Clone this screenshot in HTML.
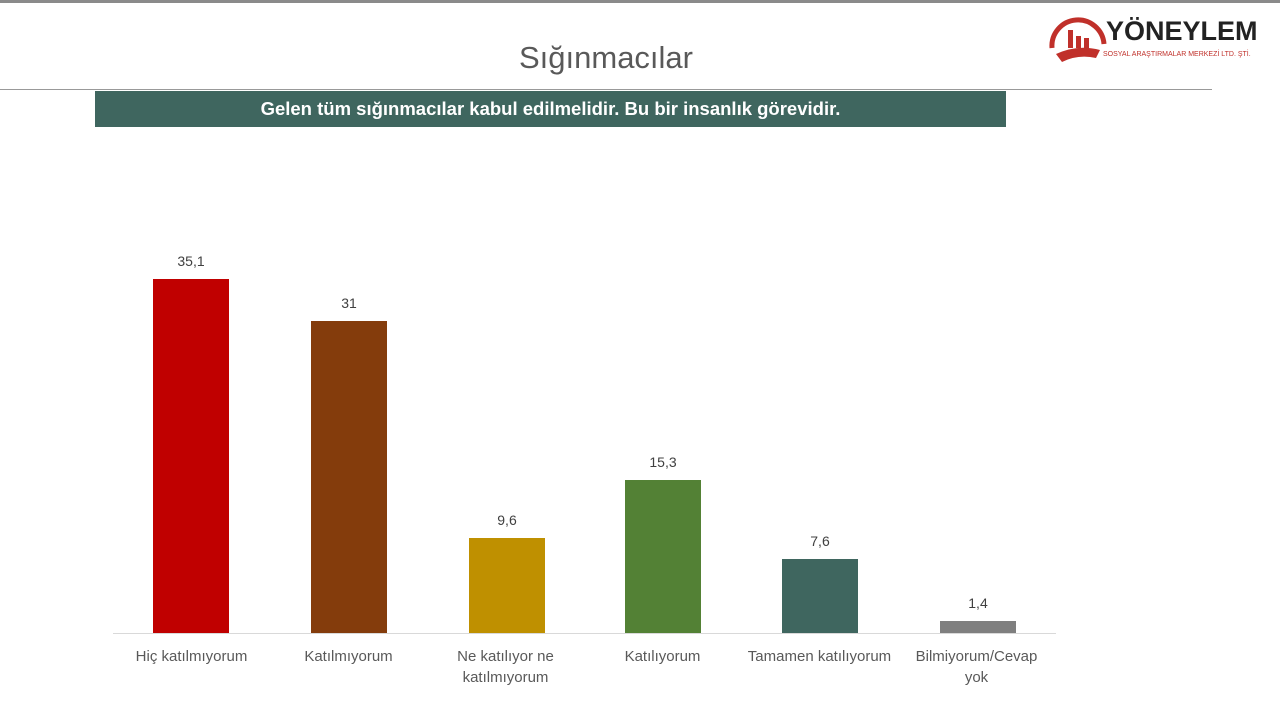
<!DOCTYPE html>
<html><head><meta charset="utf-8"><style>
body{margin:0;width:1280px;height:702px;background:#fff;position:relative;overflow:hidden;font-family:"Liberation Sans","DejaVu Sans",sans-serif}
.a{position:absolute}
.bar{position:absolute;width:76px;bottom:69px}
.v{position:absolute;width:76px;text-align:center;font-size:14px;color:#404040}
.l{position:absolute;width:157px;text-align:center;font-size:15px;color:#595959;line-height:21px;top:646px}
</style></head><body>
<div class="a" style="left:0;top:0;width:1280px;height:3px;background:#8a8a8a"></div>
<div class="a" style="left:0;top:40px;width:1212px;text-align:center;font-size:31px;color:#595959">Sığınmacılar</div>
<div class="a" style="left:0;top:89px;width:1212px;height:1px;background:#999"></div>
<div class="a" style="left:95px;top:91px;width:911px;height:36px;background:#3f665f;color:#fff;font-weight:bold;font-size:18.5px;line-height:36px;text-align:center">Gelen tüm sığınmacılar kabul edilmelidir. Bu bir insanlık görevidir.</div>
<svg class="a" style="left:1048px;top:14px" width="60" height="52"><path d="M4 34 A26 26 0 0 1 56 30" stroke="#c0302a" stroke-width="5" fill="none"/><rect x="20" y="16" width="5" height="18" fill="#c0302a"/><rect x="28" y="22" width="5" height="12" fill="#c0302a"/><rect x="36" y="24" width="5" height="10" fill="#c0302a"/><path d="M8 40 Q30 30 52 36 L48 44 Q30 40 14 48 Z" fill="#c0302a"/></svg>
<div class="a" style="left:1106px;top:16px;font-size:27px;font-weight:bold;color:#222">YÖNEYLEM</div>
<div class="a" style="left:1103px;top:51px;font-size:7px;color:#c0302a">SOSYAL ARAŞTIRMALAR MERKEZİ LTD. ŞTİ.</div>
<div class="a" style="left:113px;top:633px;width:943px;height:1px;background:#d9d9d9"></div>
<div class="bar" style="left:153px;height:354px;background:#c00000"></div>
<div class="bar" style="left:311px;height:312px;background:#843c0c"></div>
<div class="bar" style="left:469px;height:95px;background:#bf9000"></div>
<div class="bar" style="left:625px;height:153px;background:#538135"></div>
<div class="bar" style="left:782px;height:74px;background:#3f665f"></div>
<div class="bar" style="left:940px;height:12px;background:#7f7f7f"></div>
<div class="v" style="left:153px;top:253px">35,1</div>
<div class="v" style="left:311px;top:295px">31</div>
<div class="v" style="left:469px;top:512px">9,6</div>
<div class="v" style="left:625px;top:454px">15,3</div>
<div class="v" style="left:782px;top:533px">7,6</div>
<div class="v" style="left:940px;top:595px">1,4</div>
<div class="l" style="left:113px">Hiç katılmıyorum</div>
<div class="l" style="left:270px">Katılmıyorum</div>
<div class="l" style="left:427px">Ne katılıyor ne<br>katılmıyorum</div>
<div class="l" style="left:584px">Katılıyorum</div>
<div class="l" style="left:741px">Tamamen katılıyorum</div>
<div class="l" style="left:898px">Bilmiyorum/Cevap<br>yok</div>
</body></html>
